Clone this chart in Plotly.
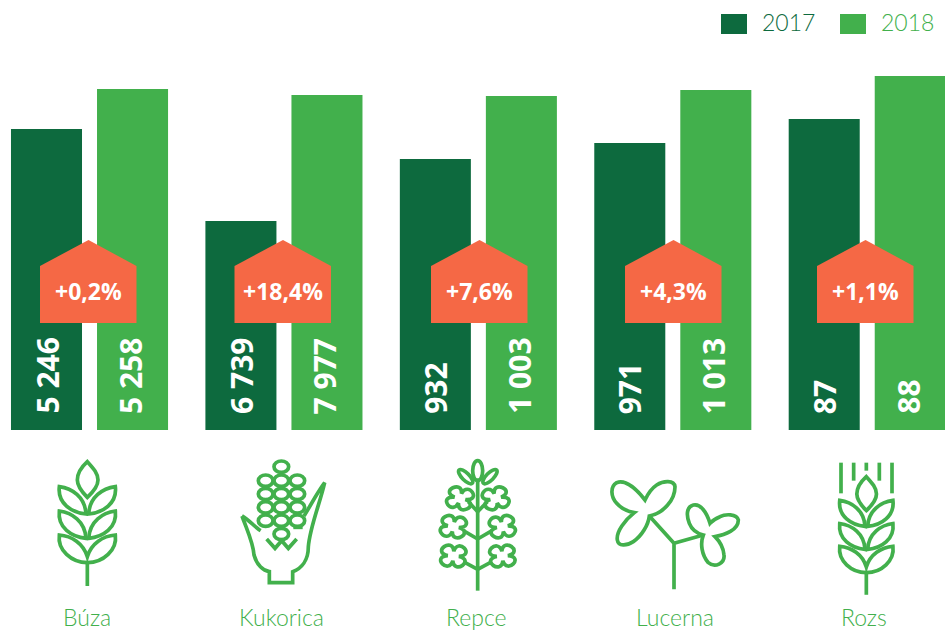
import math
import re
import plotly.graph_objects as go

categories = ["Búza", "Kukorica", "Repce", "Lucerna", "Rozs"]
years = ["2017", "2018"]
labels_2017 = ["5 246", "6 739", "932", "971", "87"]
labels_2018 = ["5 258", "7 977", "1 003", "1 013", "88"]
bars_2017 = [301, 209, 271, 287, 311]
bars_2018 = [341, 335, 334, 340, 354]
changes = ["+0,2%", "+18,4%", "+7,6%", "+4,3%", "+1,1%"]

DARK = "#0D6A3E"
GREEN = "#42B04C"
ORANGE = "#F56845"
W, H = 945, 631
BOLD = "Open Sans"
LIGHT = "Lato"
house_left = [40, 234.5, 431, 625, 817]
label_shift = [-2.5, -2.5, -2, 2.5, -3]


def px(x, y):
    return x / W, 1 - y / H


def to_paper(path, x0=0, y0=0, k=1 / 3):
    nums = iter(re.findall(r"-?\d+\.?\d*|[A-Za-z]", path))
    out = []
    for t in nums:
        if t.isalpha():
            out.append(t)
        else:
            x = x0 + float(t) * k
            y = y0 + float(next(nums)) * k
            a, b = px(x, y)
            out.append(f"{a:.5f},{b:.5f}")
    return " ".join(out)


shapes = []


def stroke(path, x0=0, y0=0, k=1 / 3, w=3.7):
    shapes.append(dict(type="path", xref="paper", yref="paper", path=to_paper(path, x0, y0, k),
                       line=dict(color=GREEN, width=w), fillcolor="rgba(0,0,0,0)", layer="above"))


def wheat(x0, y0, k):
    stroke("M262 65 C240 85 232 100 232 120 C232 140 250 160 262 172 C275 160 294 140 294 120 C294 100 280 85 262 65 Z", x0, y0, k)
    for dy in (0, 73):
        stroke(f"M178 {140+dy} C215 {145+dy} 255 {170+dy} 258 {222+dy} C215 {218+dy} 172 {190+dy} 178 {140+dy} Z", x0, y0, k)
        stroke(f"M346 {140+dy} C309 {145+dy} 269 {170+dy} 266 {222+dy} C309 {218+dy} 352 {190+dy} 346 {140+dy} Z", x0, y0, k)
    stroke("M178 285 C215 288 250 310 262 350 C274 310 309 288 346 285 C352 330 310 368 262 368 C214 368 172 330 178 285 Z", x0, y0, k)
    stroke("M262 368 L262 438", x0, y0, k)


def ellipse(cx, cy, rx, ry, rot=0):
    c = 0.5523
    pts = [(-rx, 0), (-rx, -c * ry), (-c * rx, -ry), (0, -ry), (c * rx, -ry), (rx, -c * ry), (rx, 0),
           (rx, c * ry), (c * rx, ry), (0, ry), (-c * rx, ry), (-rx, c * ry), (-rx, 0)]
    r = math.radians(rot)
    p = [(cx + a * math.cos(r) - b * math.sin(r), cy + a * math.sin(r) + b * math.cos(r)) for a, b in pts]
    s = f"M{p[0][0]:.1f} {p[0][1]:.1f} "
    for i in range(1, 13, 3):
        s += f"C{p[i][0]:.1f} {p[i][1]:.1f} {p[i+1][0]:.1f} {p[i+1][1]:.1f} {p[i+2][0]:.1f} {p[i+2][1]:.1f} "
    return s + "Z"


def flower(cx, cy, rot=0, rin=16, rout=64, sx=1.05, sy=0.9):
    n = 4
    def p(r, t):
        return f"{cx + sx*r*math.cos(t):.1f} {cy + sy*r*math.sin(t):.1f}"
    step = 2 * math.pi / n
    a0 = math.radians(rot)
    s = "M" + p(rin, a0) + " "
    for i in range(n):
        a = a0 + i * step
        b = a + step
        m = (a + b) / 2
        s += "C" + p(rout, m - 0.66) + " " + p(rout, m + 0.66) + " " + p(rin, b) + " "
    return s + "Z"


# Búza
wheat(0, 440, 1 / 3)
# Rozs
wheat(780 + (259 - 262 * 0.95) / 3, 440 + (110 - 65 * 0.95) / 3, 0.95 / 3)
for xw, y2 in [(183, 160), (221, 122), (259, 92), (298, 122), (336, 160)]:
    stroke(f"M{xw} 68 L{xw} {y2}", 780, 440)

# Kukorica
KY = 440
for cx, cy in [(844, 80)] + [(x, y) for y in (122, 162, 202, 242) for x in (797, 844, 892)] + [(844, 282)]:
    stroke(ellipse(cx, cy, 22, 17), 0, KY)
stroke("M726 228 C745 280 760 310 762 345 C770 375 790 392 808 395 L808 428 L878 428 L878 395 C905 385 925 360 925 320 C930 260 960 190 974 128 C950 160 930 200 912 228", 0, KY)
stroke("M726 228 C745 238 765 262 782 272", 0, KY)
stroke("M880 262 L908 262", 0, KY)
stroke("M800 297 L825 325 L845 302 L865 325 L890 297", 0, KY)

# Repce
RX, RY = 400, 440
stroke("M233 115 L233 452", RX, RY)
stroke(ellipse(233, 92, 15, 30), RX, RY)
stroke(ellipse(197, 110, 28, 11, 45), RX, RY)
stroke(ellipse(270, 110, 28, 11, -45), RX, RY)
for cx, cy, rot in [(180, 175, 15), (287, 175, 75), (160, 260, 10), (307, 260, 80), (160, 348, 5), (307, 348, 85)]:
    stroke(flower(cx, cy, rot), RX, RY)
for a, b, c, d in [(205, 185, 233, 215), (262, 185, 233, 215), (190, 272, 233, 297), (276, 272, 233, 297),
                   (190, 365, 233, 388), (276, 365, 233, 388)]:
    stroke(f"M{a} {b} L{c} {d}", RX, RY)

# Lucerna
stroke("M822 310 L822 448 M822 310 L748 228 M822 310 L910 285", RX, RY)
stroke("M735 180 C700 135 670 120 650 128 C630 140 632 170 650 190 C665 207 685 215 703 218 C675 240 648 275 652 300 C655 320 680 318 700 305 C725 288 745 255 748 228 C790 220 825 180 825 140 C822 120 790 122 770 135 C755 145 742 165 735 180 Z", RX, RY)
stroke("M930 250 C920 215 900 190 880 195 C860 200 858 225 868 250 C875 268 890 280 910 285 C900 310 905 345 925 368 C945 385 975 370 972 345 C970 320 955 300 945 290 C975 285 1015 270 1015 240 C1010 220 975 222 960 230 C948 235 937 242 930 250 Z", RX, RY)

# Change badges
for left in house_left:
    pts = [(left, 323), (left, 266), (left + 48.5, 240), (left + 96.5, 266), (left + 96.5, 323)]
    path = "M" + " L".join("{:.5f},{:.5f}".format(*px(*q)) for q in pts) + " Z"
    shapes.append(dict(type="path", xref="paper", yref="paper", path=path, fillcolor=ORANGE,
                       line=dict(width=0), layer="above"))

# Legend swatches
for x0, col in [(721, DARK), (840, GREEN)]:
    a, b = px(x0, 14)
    c, d = px(x0 + 26, 34)
    shapes.append(dict(type="rect", xref="paper", yref="paper", x0=a, x1=c, y0=d, y1=b, fillcolor=col, line=dict(width=0)))

ann = []
for i in range(len(categories)):
    for lab, shift in [(labels_2017[i], -43), (labels_2018[i], 40.5)]:
        ann.append(dict(x=i, y=0, xref="x", yref="y", text=lab, showarrow=False, textangle=-90,
                        xshift=shift, yshift=14, xanchor="center", yanchor="bottom",
                        font=dict(family=BOLD, size=30, color="white", weight=700)))
    xc = (house_left[i] + 48.5) / W
    ann.append(dict(x=xc, y=px(0, 291)[1], xref="paper", yref="paper", text=changes[i], showarrow=False,
                    xanchor="center", yanchor="middle", font=dict(family=BOLD, size=23, color="white", weight=700)))
    ann.append(dict(x=i, y=px(0, 617)[1], xref="x", yref="paper", text=categories[i], showarrow=False, xshift=label_shift[i],
                    xanchor="center", yanchor="middle", font=dict(family=LIGHT, size=23, color=GREEN, weight=300)))
for x0, yr, col in [(760, years[0], DARK), (879, years[1], GREEN)]:
    ann.append(dict(x=x0 / W, y=px(0, 22)[1], xref="paper", yref="paper", text=yr, showarrow=False,
                    xanchor="left", yanchor="middle", font=dict(family=LIGHT, size=23, color=col, weight=300)))

fig = go.Figure()
fig.add_bar(x=categories, y=bars_2017, name=years[0], marker=dict(color=DARK, line=dict(width=0)), hoverinfo="skip")
fig.add_bar(x=categories, y=bars_2018, name=years[1], marker=dict(color=GREEN, line=dict(width=0)), hoverinfo="skip")
fig.update_layout(
    width=W, height=H, margin=dict(l=0, r=0, t=0, b=0, pad=0), paper_bgcolor="white", plot_bgcolor="white",
    barmode="group", bargap=0.115, bargroupgap=0.1744, showlegend=False,
    shapes=shapes, annotations=ann,
    xaxis=dict(visible=False, type="category", range=[-0.4604, 4.4]),
    yaxis=dict(visible=False, range=[-201, 430]),
)
fig.write_html("out.html", config=dict(displayModeBar=False),
               post_script="document.body.style.margin='0';document.body.style.overflow='hidden';")
